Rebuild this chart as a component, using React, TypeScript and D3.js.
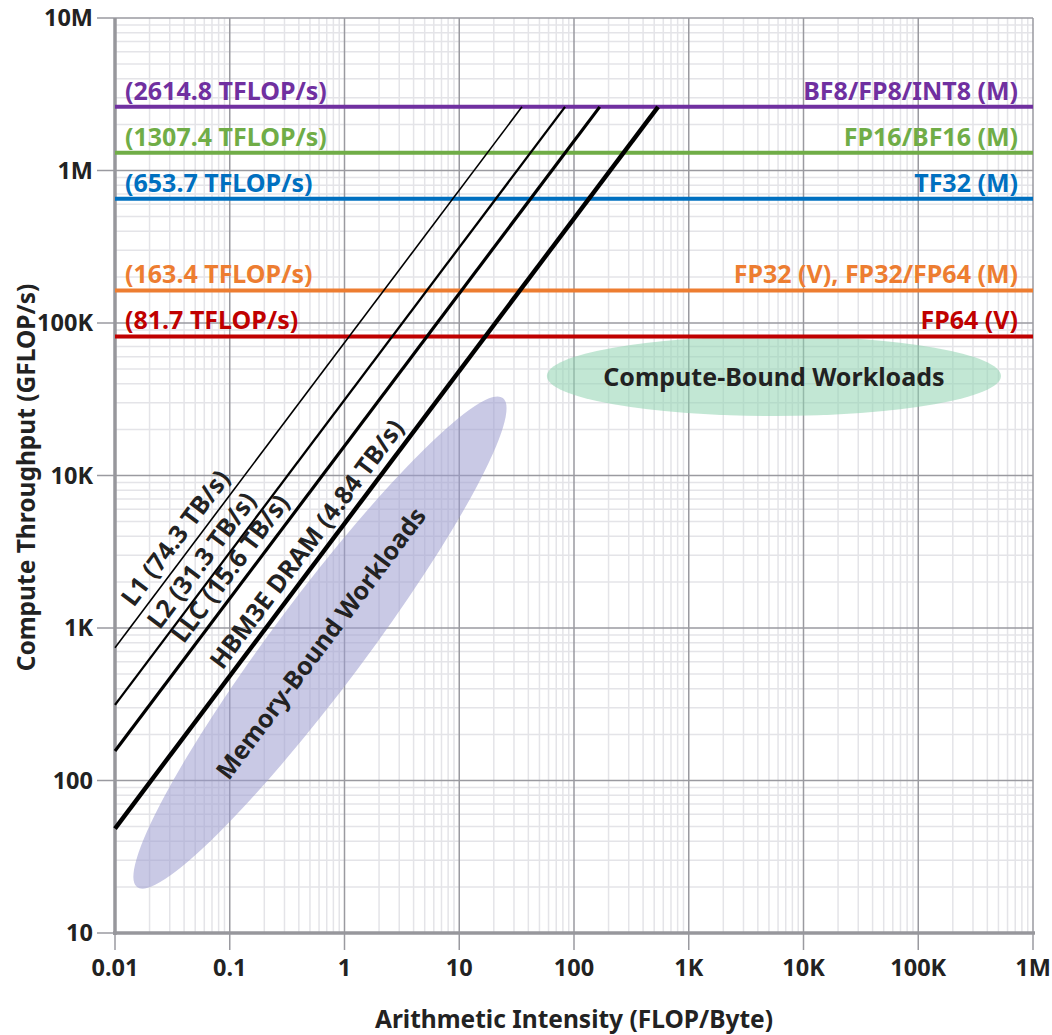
import React from "react";
import * as d3 from "d3";

const W = 1052;
const H = 1035;
const margin = { top: 18, right: 19, bottom: 102, left: 115 };

const xTicks = [0.01, 0.1, 1, 10, 100, 1e3, 1e4, 1e5, 1e6];
const xTickLabels = ["0.01", "0.1", "1", "10", "100", "1K", "10K", "100K", "1M"];
const yTicks = [10, 100, 1e3, 1e4, 1e5, 1e6, 1e7];
const yTickLabels = ["10", "100", "1K", "10K", "100K", "1M", "10M"];

// compute roofs (TFLOP/s)
const peakNames = ["BF8/FP8/INT8 (M)", "FP16/BF16 (M)", "TF32 (M)", "FP32 (V), FP32/FP64 (M)", "FP64 (V)"];
const peakValues = [2614.8, 1307.4, 653.7, 163.4, 81.7];
const peakColors = ["#7030a0", "#70ad47", "#0070c0", "#ed7d31", "#c00000"];

// memory roofs (TB/s)
const memNames = ["L1", "L2", "LLC", "HBM3E DRAM"];
const memBandwidth = [74.3, 31.3, 15.6, 4.84];
const memStroke = [1.6, 2.3, 3.2, 4.4];
const memLabelX = [0.0168, 0.0284, 0.046, 0.1];

const fontFamily = "'Noto Sans', 'Open Sans', sans-serif";
const textColor = "#222";
const labelSize = 25;
const tickSize = 23.5;

export default function App() {
  const iw = W - margin.left - margin.right;
  const ih = H - margin.top - margin.bottom;
  const x = d3.scaleLog().domain([0.01, 1e6]).range([0, iw]);
  const y = d3.scaleLog().domain([10, 1e7]).range([ih, 0]);

  const minorX: number[] = [];
  for (let e = -2; e < 6; e++) for (let k = 2; k <= 9; k++) minorX.push(k * Math.pow(10, e));
  const minorY: number[] = [];
  for (let e = 1; e < 7; e++) for (let k = 2; k <= 9; k++) minorY.push(k * Math.pow(10, e));

  const maxPeak = d3.max(peakValues)! * 1000;
  const angle = (Math.atan2(y(1e3) - y(1e4), x(10) - x(1)) * 180) / Math.PI; // ~53deg

  // workload ellipses in data coords (two ends of major axis) + half thickness in px
  const memEll = { x0: 0.01556, y0: 20.0, x1: 24.0, y1: 32200, half: 46 };
  const cmpEll = { x0: 58, x1: 526000, yc: 44900, half: 40 };

  const mx0 = x(memEll.x0), my0 = y(memEll.y0), mx1 = x(memEll.x1), my1 = y(memEll.y1);
  const mcx = (mx0 + mx1) / 2, mcy = (my0 + my1) / 2;
  const mrx = Math.hypot(mx1 - mx0, my1 - my0) / 2;
  const mang = (Math.atan2(my1 - my0, mx1 - mx0) * 180) / Math.PI;

  const cx0 = x(cmpEll.x0), cx1 = x(cmpEll.x1), ccy = y(cmpEll.yc);

  return (
    <svg width={W} height={H} style={{ position: "absolute", left: 0, top: 0, background: "#fff" }} fontFamily={fontFamily}>
      <g transform={`translate(${margin.left},${margin.top})`}>
        {/* minor grid */}
        {minorX.map((v, i) => (
          <line key={"mx" + i} x1={x(v)} x2={x(v)} y1={0} y2={ih} stroke="#e4e4e8" strokeWidth={1.5} />
        ))}
        {minorY.map((v, i) => (
          <line key={"my" + i} x1={0} x2={iw} y1={y(v)} y2={y(v)} stroke="#e4e4e8" strokeWidth={1.5} />
        ))}
        {/* major grid */}
        {xTicks.map((v, i) => (
          <line key={"gx" + i} x1={x(v)} x2={x(v)} y1={0} y2={ih + 17} stroke="#9a9aa0" strokeWidth={1.5} />
        ))}
        {yTicks.map((v, i) => (
          <line key={"gy" + i} x1={-18} x2={iw} y1={y(v)} y2={y(v)} stroke="#9a9aa0" strokeWidth={1.5} />
        ))}

        {/* workload regions */}
        <ellipse cx={mcx} cy={mcy} rx={mrx} ry={memEll.half} transform={`rotate(${mang},${mcx},${mcy})`} fill="#9c9ccf" fillOpacity={0.55} />
        <ellipse cx={(cx0 + cx1) / 2} cy={ccy} rx={(cx1 - cx0) / 2} ry={cmpEll.half} fill="#8fd3b0" fillOpacity={0.55} />

        {/* axes */}
        <line x1={0} x2={0} y1={0} y2={ih + 2} stroke="#97979c" strokeWidth={3.5} />
        <line x1={-2} x2={iw + 2} y1={ih} y2={ih} stroke="#97979c" strokeWidth={3.5} />

        {/* compute roofs */}
        {peakValues.map((v, i) => (
          <g key={"p" + i}>
            <line x1={0} x2={iw} y1={y(v * 1000)} y2={y(v * 1000)} stroke={peakColors[i]} strokeWidth={4} />
            <text x={10} y={y(v * 1000) - 7} fill={peakColors[i]} fontSize={labelSize} fontWeight={700}>
              {`(${v} TFLOP/s)`}
            </text>
            <text x={iw - 15} y={y(v * 1000) - 7} fill={peakColors[i]} fontSize={labelSize} fontWeight={700} textAnchor="end">
              {peakNames[i]}
            </text>
          </g>
        ))}

        {/* memory roofs */}
        {memBandwidth.map((bw, i) => {
          const b = bw * 1000;
          const xEnd = maxPeak / b;
          const lx = memLabelX[i];
          const px = x(lx), py = y(lx * b);
          return (
            <g key={"m" + i}>
              <line x1={x(0.01)} y1={y(0.01 * b)} x2={x(xEnd)} y2={y(maxPeak)} stroke="#000" strokeWidth={memStroke[i]} />
              <text transform={`translate(${px},${py}) rotate(${-angle})`} dy={-9} fill={textColor} fontSize={labelSize} fontWeight={700}>
                {`${memNames[i]} (${bw} TB/s)`}
              </text>
            </g>
          );
        })}

        {/* region labels */}
        <text transform={`translate(${mcx},${mcy}) rotate(${mang})`} textAnchor="middle" dominantBaseline="central" fill={textColor} fontSize={labelSize} fontWeight={700}>
          Memory-Bound Workloads
        </text>
        <text x={(cx0 + cx1) / 2} y={ccy} textAnchor="middle" dominantBaseline="central" fill={textColor} fontSize={labelSize} fontWeight={700}>
          Compute-Bound Workloads
        </text>

        {/* tick labels */}
        {xTicks.map((v, i) => (
          <text key={"xl" + i} x={x(v)} y={ih + 43} textAnchor="middle" fill={textColor} fontSize={tickSize} fontWeight={700}>
            {xTickLabels[i]}
          </text>
        ))}
        {yTicks.map((v, i) => (
          <text key={"yl" + i} x={-22} y={y(v)} dy="0.35em" textAnchor="end" fill={textColor} fontSize={tickSize} fontWeight={700}>
            {yTickLabels[i]}
          </text>
        ))}
      </g>

      <text x={margin.left + iw / 2} y={1028} textAnchor="middle" fill={textColor} fontSize={labelSize - 0.5} fontWeight={700}>
        Arithmetic Intensity (FLOP/Byte)
      </text>
      <text transform={`translate(35,${margin.top + ih / 2 + 2}) rotate(-90)`} textAnchor="middle" fill={textColor} fontSize={labelSize - 0.5} fontWeight={700}>
        Compute Throughput (GFLOP/s)
      </text>
    </svg>
  );
}
